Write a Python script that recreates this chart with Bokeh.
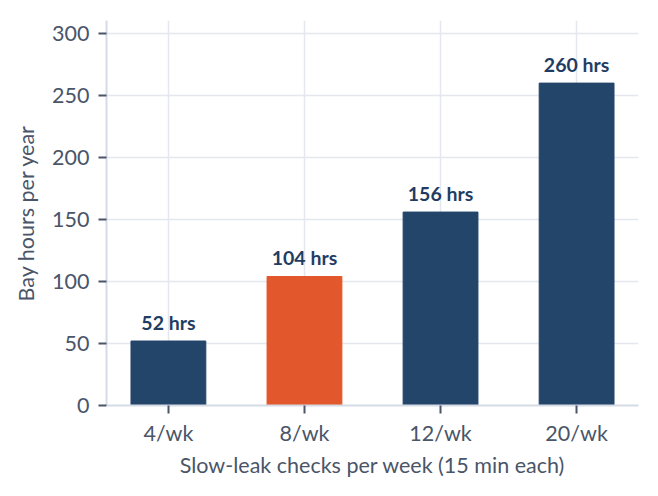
from bokeh.plotting import figure, ColumnDataSource
from bokeh.models import FixedTicker, Range1d
from bokeh.core.properties import value
from bokeh.embed import file_html
from bokeh.resources import INLINE

# chart data
categories = ['4/wk', '8/wk', '12/wk', '20/wk']
hours = [52, 104, 156, 260]
highlight = [False, True, False, False]
y_ticks = [0, 50, 100, 150, 200, 250, 300]

NAVY = '#23456a'
ORANGE = '#e2572b'
TEXT = '#4a5568'
FONT = 'Lato'

xs = list(range(len(categories)))
source = ColumnDataSource(data={
    'x': xs,
    'hours': hours,
    'color': [ORANGE if h else NAVY for h in highlight],
    'label': ['%d hrs' % v for v in hours],
})

p = figure(
    width=658, height=496,
    output_backend='svg', toolbar_location=None,
    x_range=Range1d(-0.455, 3.455), y_range=Range1d(0, 310.5),
    min_border_left=106, min_border_right=20,
    min_border_top=20, min_border_bottom=91,
)

p.vbar(x='x', top='hours', width=0.55, color='color', source=source)
p.text(x='x', y='hours', text='label', source=source,
       text_align='center', text_baseline='alphabetic', y_offset=-19,
       text_font=value(FONT), text_font_style='bold',
       text_font_size='19.5px', text_color='#1f3d63')

p.outline_line_color = None
p.background_fill_color = 'white'
p.xgrid.grid_line_color = '#e4e7ed'
p.ygrid.grid_line_color = '#e4e7ed'
p.xgrid.grid_line_width = 1.5
p.ygrid.grid_line_width = 1.5

p.xaxis.ticker = FixedTicker(ticks=xs)
p.xaxis.major_label_overrides = {i: c for i, c in enumerate(categories)}
p.yaxis.ticker = FixedTicker(ticks=y_ticks)
p.xaxis.axis_label = 'Slow-leak checks per week (15 min each)'
p.yaxis.axis_label = 'Bay hours per year'

for ax in (p.xaxis, p.yaxis):
    ax.axis_line_color = '#d5dbe4'
    ax.axis_line_width = 2
    ax.major_tick_line_color = TEXT
    ax.major_tick_line_width = 2
    ax.major_tick_in = 0
    ax.major_tick_out = 8
    ax.minor_tick_line_color = None
    ax.major_label_text_font = FONT
    ax.major_label_text_font_size = '21.5px'
    ax.major_label_text_color = TEXT
    ax.major_label_standoff = 9
    ax.axis_label_text_font = FONT
    ax.axis_label_text_font_size = '21.5px'
    ax.axis_label_text_font_style = 'normal'
    ax.axis_label_text_color = TEXT
    ax.axis_label_standoff = 10

# x axis text sits a little closer to the frame
p.xaxis.major_label_standoff = 6
p.xaxis.axis_label_standoff = 3

open('out.html', 'w').write(file_html(p, INLINE))
